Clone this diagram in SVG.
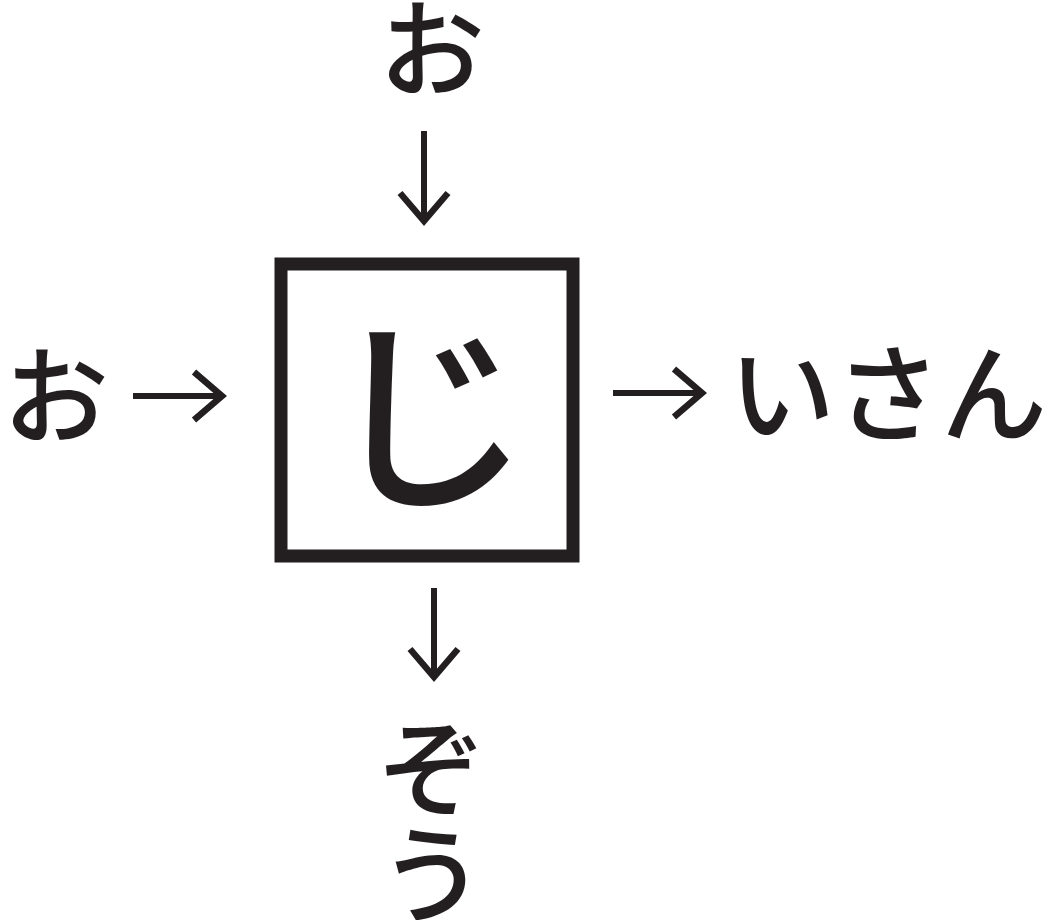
<svg xmlns="http://www.w3.org/2000/svg" width="1046" height="920" viewBox="0 0 1046 920">
<style>
.t{font-family:"Noto Sans CJK JP","Noto Sans CJK SC",sans-serif;fill:#231f20;text-anchor:middle;font-weight:500}
.a{fill:none;stroke:#231f20;stroke-width:6;marker-end:url(#h)}
</style>
<defs>
<marker id="h" viewBox="-32 -27 38 54" refX="0" refY="0" markerWidth="38" markerHeight="54" markerUnits="userSpaceOnUse" orient="auto" overflow="visible">
<path d="M-28,-24 L0,0 L-28,24" fill="none" stroke="#231f20" stroke-width="6.5"/>
</marker>
</defs>
<rect width="1046" height="920" fill="#fff"/>
<g id="center">
<rect x="281" y="264" width="292" height="292" fill="none" stroke="#231f20" stroke-width="13"/>
<text class="t" x="428" y="492" font-size="205">じ</text>
</g>
<g id="top"><text class="t" x="432" y="88" font-size="106">お</text></g>
<g id="left"><text class="t" x="56" y="435" font-size="106">お</text></g>
<g id="right"><text class="t" x="888" y="433" font-size="106">いさん</text></g>
<g id="bottom"><text class="t" x="432" font-size="106"><tspan x="432" y="808">ぞ</tspan><tspan x="432" y="914">う</tspan></text></g>
<g id="connectors">
<path class="a" d="M424,131 V221"/>
<path class="a" d="M133,396 H222"/>
<path class="a" d="M613,393 H702"/>
<path class="a" d="M434,588 V677"/>
</g>
</svg>
